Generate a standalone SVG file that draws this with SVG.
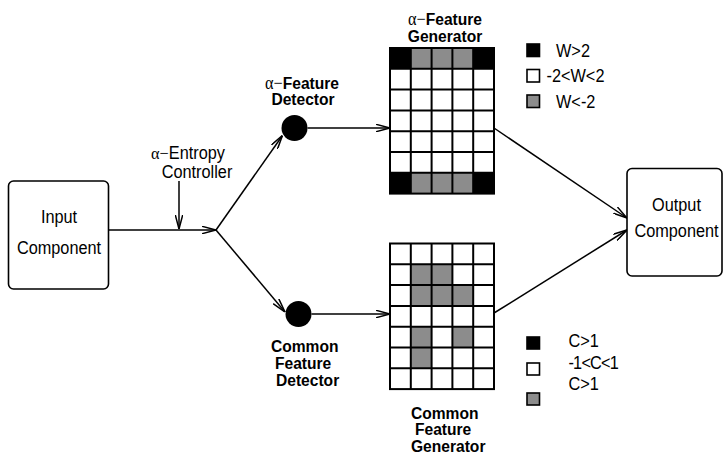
<svg xmlns="http://www.w3.org/2000/svg" width="724" height="454" viewBox="0 0 724 454">
  <style>
    text { font-family: "Liberation Sans", Arial, sans-serif; font-size: 16.3px; fill: #000; }
    .b { font-weight: bold; font-size: 15.6px; }
    .greek { font-family: "Liberation Serif", "Times New Roman", serif; font-weight: normal; font-size: 16.3px; }
    .box { fill: #fff; stroke: #000; stroke-width: 1.6; }
    .wire { fill: none; stroke: #000; stroke-width: 1.5; marker-end: url(#arrow); }
    .grid { fill: none; stroke: #000; stroke-width: 2; }
    .k { fill: #000; }
    .g { fill: #8c8c8c; }
    .key { stroke: #000; stroke-width: 1.6; }
  </style>
  <defs>
    <marker id="arrow" viewBox="0 0 14 8" refX="14" refY="4" markerWidth="14" markerHeight="8" markerUnits="userSpaceOnUse" orient="auto">
      <path d="M0,0.3 L14,4 L0,7.7" fill="none" stroke="#000" stroke-width="1.5"/>
    </marker>
  </defs>

  <rect width="724" height="454" fill="#fff"/>

  <!-- connectors -->
  <g id="connectors">
    <line class="wire" x1="108.5" y1="230" x2="216" y2="230"/>
    <line class="wire" x1="179" y1="181" x2="179" y2="229"/>
    <line class="wire" x1="216" y1="230" x2="282.5" y2="135.5"/>
    <line class="wire" x1="216" y1="230" x2="285" y2="312"/>
    <line class="wire" x1="307.5" y1="128" x2="390" y2="128"/>
    <line class="wire" x1="311.5" y1="314" x2="390" y2="314"/>
    <line class="wire" x1="494" y1="128" x2="627" y2="218"/>
    <line class="wire" x1="494" y1="313" x2="627" y2="230"/>
  </g>

  <!-- input -->
  <g id="input">
    <rect class="box" x="8.5" y="181" width="100" height="108" rx="5"/>
    <text transform="translate(59,223.3) scale(1,1.08)" text-anchor="middle">Input</text>
    <text transform="translate(59,254) scale(1,1.08)" text-anchor="middle">Component</text>
  </g>

  <!-- entropy controller label -->
  <g id="entropy-controller">
    <text transform="translate(188,158.5) scale(1,1.08)" text-anchor="middle"><tspan class="greek">α−</tspan>Entropy</text>
    <text transform="translate(197,177.5) scale(1,1.08)" text-anchor="middle">Controller</text>
  </g>

  <!-- alpha feature detector -->
  <g id="alpha-detector">
    <circle cx="294.5" cy="128" r="13" fill="#000"/>
    <text class="b" transform="translate(302,89) scale(1,1.1)" text-anchor="middle"><tspan class="greek">α−</tspan>Feature</text>
    <text class="b" transform="translate(303,105) scale(1,1.1)" text-anchor="middle">Detector</text>
  </g>

  <!-- common feature detector -->
  <g id="common-detector">
    <circle cx="298.5" cy="314" r="13" fill="#000"/>
    <text class="b" transform="translate(271,351.5) scale(1,1.1)">Common</text>
    <text class="b" transform="translate(275,368.5) scale(1,1.1)">Feature</text>
    <text class="b" transform="translate(276,386) scale(1,1.1)">Detector</text>
  </g>

  <!-- alpha feature generator -->
  <g id="alpha-generator">
    <rect x="390" y="48" width="104" height="145.6" fill="#fff"/>
    <rect class="k" x="390" y="48" width="20.8" height="20.8"/>
    <rect class="g" x="410.8" y="48" width="62.4" height="20.8"/>
    <rect class="k" x="473.2" y="48" width="20.8" height="20.8"/>
    <rect class="k" x="390" y="172.8" width="20.8" height="20.8"/>
    <rect class="g" x="410.8" y="172.8" width="62.4" height="20.8"/>
    <rect class="k" x="473.2" y="172.8" width="20.8" height="20.8"/>
    <rect class="grid" x="390" y="48" width="104" height="145.6"/>
    <path class="grid" d="M410.8,48V193.6M431.6,48V193.6M452.4,48V193.6M473.2,48V193.6M390,68.8H494M390,89.6H494M390,110.4H494M390,131.2H494M390,152H494M390,172.8H494"/>
    <text class="b" transform="translate(445,25) scale(1,1.1)" text-anchor="middle"><tspan class="greek">α−</tspan>Feature</text>
    <text class="b" transform="translate(445,41.7) scale(1,1.1)" text-anchor="middle">Generator</text>
  </g>

  <!-- common feature generator -->
  <g id="common-generator">
    <rect x="390" y="243.5" width="104" height="145.6" fill="#fff"/>
    <rect class="g" x="410.8" y="264.3" width="41.6" height="20.8"/>
    <rect class="g" x="410.8" y="285.1" width="62.4" height="20.8"/>
    <rect class="g" x="410.8" y="326.7" width="20.8" height="41.6"/>
    <rect class="g" x="452.4" y="326.7" width="20.8" height="20.8"/>
    <rect class="grid" x="390" y="243.5" width="104" height="145.6"/>
    <path class="grid" d="M410.8,243.5V389.1M431.6,243.5V389.1M452.4,243.5V389.1M473.2,243.5V389.1M390,264.3H494M390,285.1H494M390,305.9H494M390,326.7H494M390,347.5H494M390,368.3H494"/>
    <text class="b" transform="translate(411,418.5) scale(1,1.1)">Common</text>
    <text class="b" transform="translate(415,435) scale(1,1.1)">Feature</text>
    <text class="b" transform="translate(411,451.5) scale(1,1.1)">Generator</text>
  </g>

  <!-- output -->
  <g id="output">
    <rect class="box" x="627" y="168.5" width="95" height="107.5" rx="5"/>
    <text transform="translate(676.5,211) scale(1,1.08)" text-anchor="middle">Output</text>
    <text transform="translate(676.5,236.5) scale(1,1.08)" text-anchor="middle">Component</text>
  </g>

  <!-- weight legend -->
  <g id="legend-w">
    <rect class="key" x="527" y="44" width="12.5" height="12.5" fill="#000"/>
    <rect class="key" x="527" y="69.5" width="12.5" height="12.5" fill="#fff"/>
    <rect class="key" x="527" y="95" width="12.5" height="12.5" fill="#8c8c8c"/>
    <text transform="translate(556,56.7) scale(1,1.08)">W&gt;2</text>
    <text transform="translate(546.5,82) scale(1,1.08)">-2&lt;W&lt;2</text>
    <text transform="translate(556,107.5) scale(1,1.08)">W&lt;-2</text>
  </g>

  <!-- common legend -->
  <g id="legend-c">
    <rect class="key" x="527" y="337" width="12.5" height="12" fill="#000"/>
    <rect class="key" x="527" y="363" width="12.5" height="12" fill="#fff"/>
    <rect class="key" x="527" y="393" width="12.5" height="12" fill="#8c8c8c"/>
    <text transform="translate(568.5,347) scale(1,1.08)">C&gt;1</text>
    <text transform="translate(568.5,368.5) scale(1,1.08)" letter-spacing="-0.8">-1&lt;C&lt;1</text>
    <text transform="translate(568.5,390) scale(1,1.08)">C&gt;1</text>
  </g>
</svg>
